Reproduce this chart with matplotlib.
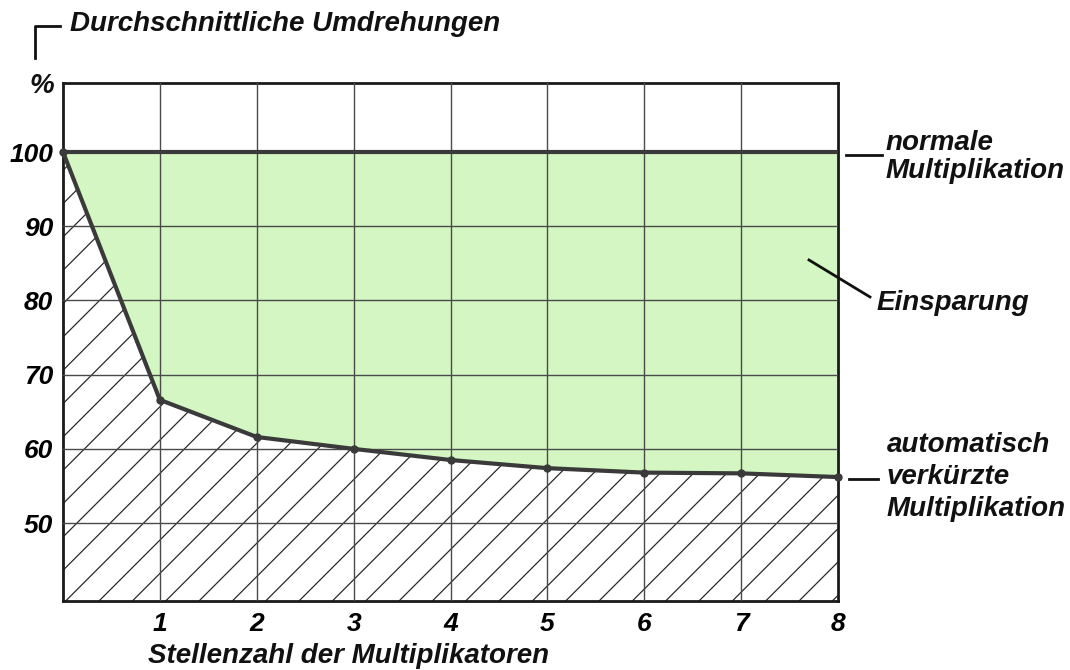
import matplotlib
matplotlib.use("Agg")
from matplotlib import pyplot as plt
from matplotlib.lines import Line2D

# number of digits of the multiplier
digits = [0, 1, 2, 3, 4, 5, 6, 7, 8]
# average revolutions in %, normal multiplication
normal = [100, 100, 100, 100, 100, 100, 100, 100, 100]
# average revolutions in %, automatically shortened multiplication
shortened = [100, 66.6, 61.6, 60.0, 58.5, 57.4, 56.8, 56.7, 56.2]

y_ticks = [50, 60, 70, 80, 90, 100]
x_ticks = [1, 2, 3, 4, 5, 6, 7, 8]
y_floor, y_top = 39.5, 109.3

plt.rcParams["font.family"] = ["Liberation Sans", "DejaVu Sans"]
plt.rcParams["hatch.linewidth"] = 0.9

W, H = 1070, 670
fig = plt.figure(figsize=(W / 100, H / 100), dpi=100)
ax = fig.add_axes([63 / W, 1 - 601 / H, (838 - 63) / W, (601 - 83) / H])

# savings area and hatched area below the shortened curve
ax.fill_between(digits, shortened, normal, color="#d3f6c2", linewidth=0, zorder=1)
ax.fill_between(digits, y_floor, shortened, facecolor="white", edgecolor="#2a2a2a",
                hatch="/", linewidth=0, zorder=1)

ax.plot(digits, normal, color="#3a3a3a", lw=3, zorder=4)
ax.plot(digits, shortened, color="#3a3a3a", lw=3, marker="o", ms=5,
        mfc="#3a3a3a", zorder=4, clip_on=False)

ax.set_xlim(0, 8)
ax.set_ylim(y_floor, y_top)
ax.set_xticks(x_ticks)
ax.set_yticks(y_ticks)
ax.set_axisbelow(False)
ax.grid(True, color="#4a4a4a", lw=1.0)
ax.tick_params(length=0, labelsize=19)
ax.tick_params(axis="x", pad=8)
ax.tick_params(axis="y", pad=7)
for lab in ax.get_xticklabels() + ax.get_yticklabels():
    lab.set_fontweight("bold")
    lab.set_fontstyle("italic")
for sp in ax.spines.values():
    sp.set_linewidth(2)
    sp.set_color("#1a1a1a")


def px(x, y):
    return x / W, 1 - y / H


txt = dict(fontsize=20, fontweight="bold", fontstyle="italic", color="#111111")

# title with little bracket
fig.text(*px(70, 24), "Durchschnittliche Umdrehungen", ha="left", va="center", **txt)
fig.add_artist(Line2D([35 / W, 35 / W, 60 / W], [1 - 58 / H, 1 - 26 / H, 1 - 26 / H],
                      color="#111111", lw=2))
fig.text(*px(42, 86), "%", ha="center", va="center", **txt)
fig.text(*px(148, 656), "Stellenzahl der Multiplikatoren", ha="left", va="center", **txt)

# right side annotations
fig.text(*px(886, 157), "normale\nMultiplikation", ha="left", va="center",
         linespacing=1.08, **txt)
fig.add_artist(Line2D([846 / W, 882 / W], [1 - 155 / H, 1 - 155 / H], color="#111111", lw=2))

fig.text(*px(877, 303), "Einsparung", ha="left", va="center", **txt)
fig.add_artist(Line2D([809 / W, 870 / W], [1 - 260 / H, 1 - 297 / H], color="#111111", lw=2))

fig.text(*px(887, 477), "automatisch\nverkürzte\nMultiplikation", ha="left", va="center",
         linespacing=1.28, **txt)
fig.add_artist(Line2D([849 / W, 878 / W], [1 - 479 / H, 1 - 479 / H], color="#111111", lw=2))

fig.savefig("out.png", dpi=100, facecolor="white")
